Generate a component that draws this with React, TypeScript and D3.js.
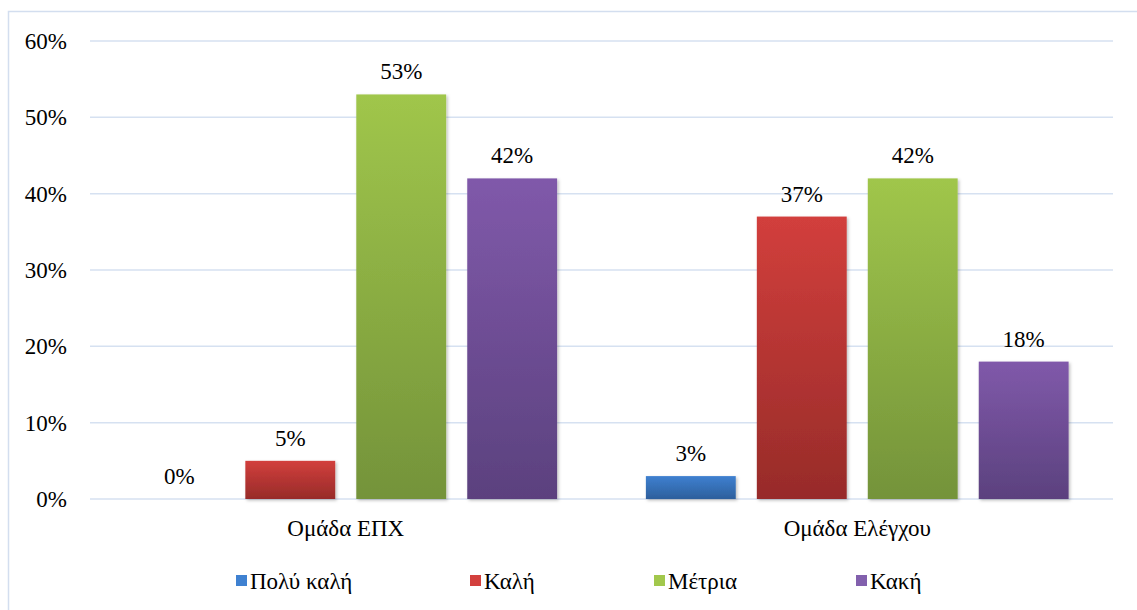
import React from "react";
import * as d3 from "d3";

const groups = ["Ομάδα ΕΠΧ", "Ομάδα Ελέγχου"];
const seriesNames = ["Πολύ καλή", "Καλή", "Μέτρια", "Κακή"];
const seriesEPX = [0, 5, 53, 42];
const seriesControl = [3, 37, 42, 18];
const yTicks = [0, 10, 20, 30, 40, 50, 60];
const colorsTop = ["#3E80D0", "#D23F3C", "#A0C64B", "#8059AA"];
const colorsBottom = ["#2D5F9C", "#972B29", "#74933A", "#5B417E"];
const legendColorsTop = ["#3F81D1", "#D3403D", "#A2C84C", "#8260AD"];

const W = 1137;
const H = 610;
const margin = { left: 90, right: 24, top: 41, bottom: 111 };
const FONT = "Times New Roman";
const FS = 23;

export default function App() {
  const values = [seriesEPX, seriesControl];
  const x0 = d3
    .scaleBand<string>()
    .domain(groups)
    .range([margin.left, W - margin.right])
    .padding(0);
  const x1 = d3
    .scaleBand<string>()
    .domain(seriesNames)
    .range([0, x0.bandwidth()])
    .paddingInner(0.19)
    .paddingOuter(0.4);
  const y = d3
    .scaleLinear()
    .domain([0, 60])
    .range([H - margin.bottom, margin.top]);

  const legendX = [236, 470, 654, 856];

  return (
    <div style={{ position: "absolute", left: 0, top: 0 }}>
      <svg width={W} height={H} style={{ display: "block" }} fontFamily={FONT}>
        <defs>
          {seriesNames.map((s, i) => (
            <linearGradient key={s} id={`g${i}`} x1="0" y1="0" x2="0" y2="1">
              <stop offset="0%" stopColor={colorsTop[i]} />
              <stop offset="100%" stopColor={colorsBottom[i]} />
            </linearGradient>
          ))}
          <filter id="shadow" x="-10%" y="-10%" width="130%" height="130%">
            <feDropShadow dx="1.5" dy="1.5" stdDeviation="1.5" floodColor="#000" floodOpacity="0.25" />
          </filter>
        </defs>
        <rect x={0} y={0} width={W} height={H} fill="#fff" />
        <rect x={8.5} y={11.5} width={W + 10} height={H + 10} fill="none" stroke="#D3DEEF" strokeWidth={1.5} />
        {yTicks.map((t) => (
          <g key={t}>
            <line
              x1={margin.left}
              x2={W - margin.right}
              y1={y(t)}
              y2={y(t)}
              stroke="#D6E1F1"
              strokeWidth={1.5}
            />
            <text x={67} y={y(t) + 8} textAnchor="end" fontSize={FS} fontFamily={FONT}>
              {t}%
            </text>
          </g>
        ))}
        {groups.map((g, gi) => (
          <g key={g} transform={`translate(${x0(g)},0)`}>
            {seriesNames.map((s, si) => {
              const v = values[gi][si];
              const bx = x1(s)!;
              const by = y(v);
              const bh = y(0) - y(v);
              return (
                <g key={s}>
                  {bh > 0 && (
                    <rect
                      x={bx}
                      y={by}
                      width={x1.bandwidth()}
                      height={bh}
                      fill={`url(#g${si})`}
                      filter="url(#shadow)"
                    />
                  )}
                  <text
                    x={bx + x1.bandwidth() / 2}
                    y={by - 15}
                    textAnchor="middle"
                    fontSize={FS}
                    fontFamily={FONT}
                  >
                    {v}%
                  </text>
                </g>
              );
            })}
            <text
              x={x0.bandwidth() / 2}
              y={536}
              textAnchor="middle"
              fontSize={FS}
              fontFamily={FONT}
            >
              {g}
            </text>
          </g>
        ))}
        {seriesNames.map((s, i) => (
          <g key={s} transform={`translate(${legendX[i]},581)`}>
            <rect x={0} y={-6} width={11} height={11} fill={legendColorsTop[i]} />
            <text x={14} y={8} fontSize={FS} fontFamily={FONT}>
              {s}
            </text>
          </g>
        ))}
      </svg>
    </div>
  );
}
